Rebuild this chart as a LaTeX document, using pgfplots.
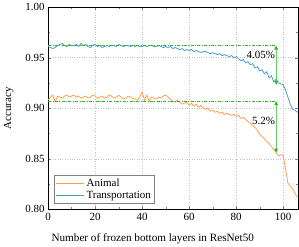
\documentclass[border=0pt]{standalone}
\usepackage{fontspec}
\setmainfont{Liberation Serif}
\usepackage{pgfplots}
\pgfplotsset{compat=1.18}
\usetikzlibrary{arrows.meta}
\definecolor{cOrange}{RGB}{255,160,80}
\definecolor{cBlue}{RGB}{75,155,210}
\definecolor{cGreenD}{RGB}{40,185,40}
\definecolor{cGreenL}{RGB}{100,210,100}
\begin{document}
\begin{tikzpicture}
\begin{axis}[
  scale only axis,
  width=250bp, height=202bp,
  xmin=0, xmax=106.5, ymin=0.80, ymax=1.00,
  xtick={0,20,40,60,80,100},
  ytick={0.80,0.85,0.90,0.95,1.00},
  minor x tick num=1, minor y tick num=1,
  tick align=inside,
  major tick length=3bp, minor tick length=2bp,
  grid=major,
  major grid style={dotted, gray!45, line width=0.6pt},
  axis line style={black, line width=0.8pt},
  /pgf/number format/assume math mode=true,
  yticklabel style={/pgf/number format/.cd, fixed, fixed zerofill, precision=2},
  ticklabel style={font=\fontsize{11}{13}\selectfont},
  xlabel={Number of frozen bottom layers in ResNet50},
  ylabel={Accuracy},
  xlabel style={at={(axis description cs:0.418,-0.143)}, anchor=center, font=\fontsize{11.2}{13}\selectfont},
  ylabel style={at={(axis description cs:-0.157,0.5)}, anchor=center, font=\fontsize{11}{13}\selectfont},
  legend style={at={(0.024,0.03)}, anchor=south west, draw=gray, fill=white, font=\fontsize{11}{13}\selectfont, inner sep=1.5pt, row sep=-1pt},
  legend cell align=left,
  legend image code/.code={\draw[#1] (0bp,0bp) -- (28bp,0bp);},
]
\addplot[cOrange, line width=0.8pt] coordinates {
(0,0.908)(1,0.911)(2,0.913)(3,0.906)(4,0.912)(5,0.911)(6,0.910)(7,0.912)(8,0.913)(9,0.911)
(10,0.912)(11,0.913)(12,0.911)(13,0.912)(14,0.910)(15,0.911)(16,0.912)(17,0.910)(18,0.911)(19,0.913)
(20,0.912)(21,0.910)(22,0.911)(23,0.912)(24,0.910)(25,0.911)(26,0.913)(27,0.912)(28,0.910)(29,0.911)
(30,0.913)(31,0.911)(32,0.909)(33,0.910)(34,0.912)(35,0.911)(36,0.910)(37,0.909)(38,0.908)(39,0.911)
(40,0.916)(41,0.908)(42,0.913)(43,0.907)(44,0.911)(45,0.910)(46,0.909)(47,0.911)(48,0.910)(49,0.912)
(50,0.913)(51,0.911)(52,0.909)(53,0.907)(54,0.906)(55,0.908)(56,0.906)(57,0.904)(58,0.905)(59,0.906)
(60,0.903)(61,0.905)(62,0.902)(63,0.904)(64,0.901)(65,0.903)(66,0.900)(67,0.899)(68,0.900)(69,0.897)
(70,0.898)(71,0.896)(72,0.897)(73,0.895)(74,0.896)(75,0.894)(76,0.895)(77,0.894)(78,0.893)(79,0.894)
(80,0.892)(81,0.893)(82,0.890)(83,0.891)(84,0.889)(85,0.887)(86,0.885)(87,0.883)(88,0.881)(89,0.878)
(90,0.874)(91,0.872)(92,0.870)(93,0.867)(94,0.865)(95,0.862)(96,0.859)(97,0.856)(98,0.853)(99,0.854)
(100,0.853)(101,0.840)(102,0.826)(103,0.823)(104,0.820)(105,0.816)(106,0.812)
};
\addlegendentry{Animal}
\addplot[cBlue, line width=0.8pt] coordinates {
(0,0.961)(1,0.960)(2,0.959)(3,0.960)(4,0.962)(5,0.963)(6,0.964)(7,0.962)(8,0.961)(9,0.963)
(10,0.962)(11,0.962)(12,0.963)(13,0.961)(14,0.964)(15,0.962)(16,0.963)(17,0.961)(18,0.960)(19,0.962)
(20,0.963)(21,0.961)(22,0.962)(23,0.960)(24,0.961)(25,0.962)(26,0.961)(27,0.962)(28,0.962)(29,0.961)
(30,0.963)(31,0.962)(32,0.961)(33,0.962)(34,0.962)(35,0.961)(36,0.962)(37,0.961)(38,0.962)(39,0.961)
(40,0.961)(41,0.962)(42,0.961)(43,0.962)(44,0.962)(45,0.961)(46,0.961)(47,0.962)(48,0.961)(49,0.960)
(50,0.961)(51,0.960)(52,0.961)(53,0.959)(54,0.960)(55,0.959)(56,0.958)(57,0.959)(58,0.957)(59,0.958)
(60,0.957)(61,0.958)(62,0.956)(63,0.957)(64,0.956)(65,0.955)(66,0.956)(67,0.956)(68,0.955)(69,0.954)
(70,0.955)(71,0.954)(72,0.953)(73,0.954)(74,0.952)(75,0.953)(76,0.952)(77,0.951)(78,0.952)(79,0.950)
(80,0.951)(81,0.949)(82,0.947)(83,0.948)(84,0.945)(85,0.946)(86,0.943)(87,0.944)(88,0.940)(89,0.941)
(90,0.937)(91,0.938)(92,0.934)(93,0.936)(94,0.930)(95,0.932)(96,0.926)(97,0.929)(98,0.925)(99,0.924)
(100,0.923)(101,0.918)(102,0.911)(103,0.904)(104,0.899)(105,0.898)(106,0.896)
};
\addlegendentry{Transportation}
\addplot[cGreenD, line width=0.9pt, dash pattern=on 3pt off 1.5pt on 0.8pt off 1.5pt, forget plot] coordinates {(0,0.962)(97,0.962)};
\addplot[cGreenD, line width=0.9pt, dash pattern=on 3pt off 1.5pt on 0.8pt off 1.5pt, forget plot] coordinates {(0,0.907)(97,0.907)};
\addplot[cGreenL, line width=1.2pt, {Triangle[length=4bp,width=3.5bp,color=cGreenD]}-{Triangle[length=4bp,width=3.5bp,color=cGreenD]}, forget plot] coordinates {(97,0.962)(97,0.923)};
\addplot[cGreenL, line width=1.2pt, {Triangle[length=4bp,width=3.5bp,color=cGreenD]}-{Triangle[length=4bp,width=3.5bp,color=cGreenD]}, forget plot] coordinates {(97,0.907)(97,0.856)};
\node[anchor=east, inner sep=1pt, font=\fontsize{11}{13}\selectfont] at (axis cs:97,0.9525) {4.05\%};
\node[anchor=east, inner sep=1pt, font=\fontsize{11}{13}\selectfont] at (axis cs:97,0.887) {5.2\%};
\end{axis}
\path ([xshift=-48bp,yshift=-37bp]current axis.south west) rectangle ([xshift=0.5bp,yshift=7bp]current axis.north east);
\end{tikzpicture}
\end{document}
